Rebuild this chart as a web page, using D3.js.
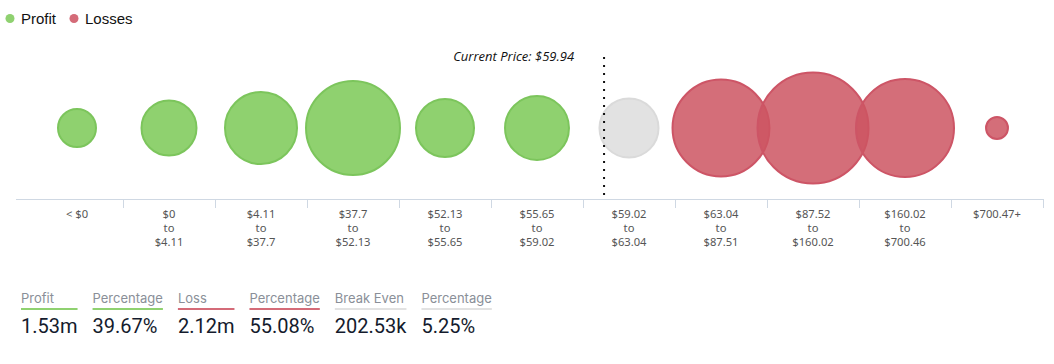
<!DOCTYPE html>
<html>
<head>
<meta charset="utf-8">
<script src="https://cdn.jsdelivr.net/npm/d3@7"></script>
<style>
  body { margin: 0; background: #fff; }
  svg { display: block; }
</style>
</head>
<body>
<svg id="chart" width="1054" height="364"></svg>
<script>
// data
var binLow = [null, 0, 4.11, 37.7, 52.13, 55.65, 59.02, 63.04, 87.52, 160.02, 700.47];
var binHigh = [0, 4.11, 37.7, 52.13, 55.65, 59.02, 63.04, 87.51, 160.02, 700.46, null];
var binStatus = ['profit', 'profit', 'profit', 'profit', 'profit', 'profit', 'even', 'loss', 'loss', 'loss', 'loss'];
// addresses per bin, thousands
var binAddresses = [84, 176, 302, 514, 196, 238, 203, 547, 717, 559, 28];
var currentPrice = 59.94;
var legendNames = ['Profit', 'Losses'];
var statLabels = ['Profit', 'Percentage', 'Loss', 'Percentage', 'Break Even', 'Percentage'];
var statValues = ['1.53m', '39.67%', '2.12m', '55.08%', '202.53k', '5.25%'];
var statKinds = ['profit', 'profit', 'loss', 'loss', 'even', 'even'];

// config
var axisY = 199;
var bubbleY = 128;
// base colours, drawn at 0.85 opacity so overlaps darken
var fills = { profit: '#7bc956', loss: '#cd5562', even: '#dddddd' };
var strokes = { profit: '#7cc55c', loss: '#cd5566', even: '#dadada' };
var lines = { profit: '#8fd170', loss: '#d46b78', even: '#e2e2e2' };

var svg = d3.select('#chart');

function money(v) { return '$' + v; }
function binLines(i) {
	if (binLow[i] === null) return ['< ' + money(binHigh[i])];
	if (binHigh[i] === null) return [money(binLow[i]) + '+'];
	return [money(binLow[i]), 'to', money(binHigh[i])];
}

var idx = d3.range(binAddresses.length);
var x = d3.scaleBand().domain(idx).range([31, 1043]);
var bw = x.bandwidth();
var r = d3.scaleSqrt().domain([0, d3.max(binAddresses)]).range([0, 55.5]);

// legend
var legend = svg.append('g');
var legendX = [10, 74];
legendNames.forEach(function(name, i) {
	legend.append('circle')
		.attr('cx', legendX[i]).attr('cy', 18.5).attr('r', 4.5)
		.attr('fill', lines[i === 0 ? 'profit' : 'loss']);
	legend.append('text')
		.attr('x', legendX[i] + 11).attr('y', 24)
		.attr('font-family', 'Liberation Sans, Arial, sans-serif')
		.attr('font-size', 15).attr('fill', '#111')
		.text(name);
});

// axis
var axis = svg.append('g').attr('stroke', '#cfd8e3').attr('stroke-width', 1);
axis.append('line')
	.attr('x1', 16).attr('x2', x.range()[1])
	.attr('y1', axisY + 0.5).attr('y2', axisY + 0.5);
axis.selectAll('line.tick').data(idx).enter().append('line')
	.attr('class', 'tick')
	.attr('x1', function(i) { return Math.round(x(i) + bw) + 0.5; })
	.attr('x2', function(i) { return Math.round(x(i) + bw) + 0.5; })
	.attr('y1', axisY).attr('y2', axisY + 9);

var labels = svg.append('g')
	.attr('font-family', 'Noto Sans, DejaVu Sans, sans-serif')
	.attr('font-size', 11.2).attr('fill', '#555')
	.attr('text-anchor', 'middle');
labels.selectAll('text').data(idx).enter().append('text')
	.attr('transform', function(i) { return 'translate(' + (x(i) + bw / 2) + ',0)'; })
	.each(function(i) {
		var t = d3.select(this);
		binLines(i).forEach(function(s, k) {
			t.append('tspan').attr('x', 0).attr('y', 218 + k * 14).text(s);
		});
	});

// bubbles
svg.append('g').selectAll('circle').data(idx).enter().append('circle')
	.attr('cx', function(i) { return x(i) + bw / 2; })
	.attr('cy', bubbleY)
	.attr('r', function(i) { return r(binAddresses[i]); })
	.attr('fill', function(i) { return fills[binStatus[i]]; })
	.attr('fill-opacity', 0.85)
	.attr('stroke', function(i) { return strokes[binStatus[i]]; })
	.attr('stroke-width', 2);

// current price marker
var pb = binLow.findIndex(function(lo, i) {
	return lo !== null && binHigh[i] !== null && currentPrice >= lo && currentPrice < binHigh[i];
});
var px = x(pb) + bw * (currentPrice - binLow[pb]) / (binHigh[pb] - binLow[pb]);
svg.append('line')
	.attr('x1', px).attr('x2', px)
	.attr('y1', 57).attr('y2', 196)
	.attr('stroke', '#111').attr('stroke-width', 2)
	.attr('stroke-dasharray', '2,6');
svg.append('text')
	.attr('x', px - 30).attr('y', 61)
	.attr('text-anchor', 'end')
	.attr('font-family', 'Open Sans, sans-serif')
	.attr('font-style', 'italic')
	.attr('font-size', 13).attr('fill', '#111')
	.text('Current Price: $' + currentPrice);

// summary stats
var stats = svg.append('g');
var sx = 21;
statLabels.forEach(function(lab, i) {
	var g = stats.append('g').attr('transform', 'translate(' + sx + ',0)');
	var t1 = g.append('text').attr('y', 303)
		.attr('font-family', 'Inter, Roboto, sans-serif')
		.attr('font-size', 13).attr('fill', '#8a8f98').text(lab);
	var t2 = g.append('text').attr('y', 333)
		.attr('font-family', 'Roboto, Inter, sans-serif')
		.attr('font-size', 20).attr('fill', '#141b2d').text(statValues[i]);
	var w = Math.max(t1.node().getComputedTextLength(), t2.node().getComputedTextLength());
	g.append('rect').attr('x', 0).attr('y', 308).attr('width', w).attr('height', 2)
		.attr('fill', lines[statKinds[i]]);
	sx += w + 15;
});
</script>
</body>
</html>
